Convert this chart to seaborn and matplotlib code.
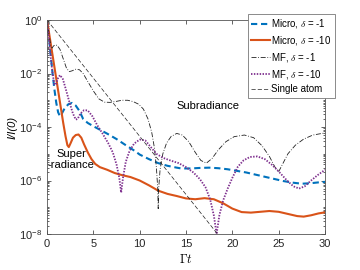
import numpy as np
import pandas as pd
import seaborn as sns
import matplotlib.pyplot as plt
from matplotlib.ticker import LogLocator, FixedLocator, NullFormatter

# values: time (Gamma t) and log10 of I/I(0)
micro1_t = [0, 0.2, 0.4, 0.6, 0.8, 1.0, 1.2, 1.4, 1.6, 1.9, 2.3, 2.7, 3.1, 3.5, 3.9,
            4.4, 5.0, 5.7, 6.5, 7.5, 8.5, 9.5, 10.0, 11.0, 12.0, 13.0, 14.0, 14.5,
            15.5, 16.5, 17.5, 18.5, 19.5, 20.5, 21.5, 22.5, 23.5, 24.5, 25.5, 26.5,
            27.5, 28.5, 29.3, 30]
micro1_log = [0, -0.6, -1.3, -2.0, -2.6, -3.1, -3.45, -3.6, -3.5, -3.3, -3.15, -3.1,
              -3.2, -3.4, -3.7, -3.85, -3.97, -4.1, -4.25, -4.45, -4.68, -4.9, -5.03,
              -5.2, -5.35, -5.45, -5.52, -5.55, -5.55, -5.53, -5.52, -5.54, -5.58,
              -5.64, -5.7, -5.78, -5.86, -5.94, -6.02, -6.08, -6.12, -6.1, -6.07, -6.05]

micro10_t = [0, 0.25, 0.5, 0.75, 1.0, 1.25, 1.5, 1.75, 2.0, 2.2, 2.35, 2.55, 2.8, 3.1,
             3.4, 3.7, 4.0, 4.4, 4.8, 5.2, 5.7, 6.5, 7.3, 8.1, 9.0, 10.0, 11.0, 12.0,
             13.0, 14.0, 15.0, 16.0, 17.0, 18.0, 19.0, 20.0, 21.0, 22.0, 23.0, 24.0,
             25.0, 26.0, 27.0, 27.7, 28.5, 29.3, 30]
micro10_log = [0, -0.55, -1.1, -1.65, -2.2, -2.75, -3.3, -3.85, -4.35, -4.68, -4.75,
               -4.6, -4.4, -4.3, -4.28, -4.4, -4.65, -4.95, -5.2, -5.38, -5.5, -5.6,
               -5.72, -5.8, -5.87, -6.0, -6.18, -6.38, -6.5, -6.58, -6.67, -6.7, -6.66,
               -6.7, -6.85, -7.05, -7.18, -7.2, -7.17, -7.14, -7.17, -7.25, -7.33,
               -7.35, -7.3, -7.23, -7.19]

mf1_t = [0, 0.2, 0.4, 0.55, 0.7, 0.9, 1.1, 1.4, 1.8, 2.1, 2.4, 2.7, 3.1, 3.5, 3.9,
         4.4, 5.0, 5.6, 6.2, 6.8, 7.5, 8.1, 8.7, 9.3, 9.9, 10.4, 10.9, 11.3, 11.6,
         11.8, 11.95, 12.0, 12.05, 12.2, 12.5, 12.9, 13.4, 14.0, 14.6, 15.3, 16.0,
         16.6, 17.2, 17.8, 18.5, 19.3, 20.2, 21.3, 22.3, 23.2, 24.0, 24.6, 25.0,
         25.4, 26.0, 26.8, 27.7, 28.7, 30]
mf1_log = [0, -0.5, -0.95, -1.05, -0.97, -0.93, -0.95, -1.1, -1.5, -1.8, -1.93, -1.9,
           -1.84, -1.86, -2.0, -2.3, -2.65, -2.95, -3.07, -3.08, -3.04, -3.0, -3.0,
           -3.05, -3.15, -3.33, -3.7, -4.2, -4.8, -5.5, -6.3, -7.05, -6.3, -5.6, -5.0,
           -4.6, -4.35, -4.24, -4.3, -4.55, -4.95, -5.25, -5.35, -5.18, -4.85, -4.55,
           -4.36, -4.3, -4.4, -4.7, -5.1, -5.5, -5.67, -5.4, -5.0, -4.68, -4.45, -4.3,
           -4.22]

mf10_t = [0, 0.2, 0.4, 0.6, 0.8, 0.95, 1.15, 1.4, 1.7, 2.0, 2.4, 2.8, 3.1, 3.3, 3.6,
          4.0, 4.4, 4.9, 5.4, 6.0, 6.6, 7.1, 7.5, 7.8, 8.0, 8.2, 8.5, 8.9, 9.4, 10.0,
          10.6, 11.2, 11.8, 12.5, 13.3, 14.2, 15.0, 15.8, 16.5, 17.1, 17.6, 18.0,
          18.3, 18.6, 19.0, 19.5, 20.0, 20.6, 21.2, 21.9, 22.7, 23.5, 24.3, 25.1,
          25.9, 26.6, 27.2, 27.8, 28.5, 29.2, 30]
mf10_log = [0, -0.7, -1.4, -2.0, -2.4, -2.42, -2.2, -2.06, -2.2, -2.55, -3.05, -3.5,
            -3.72, -3.7, -3.5, -3.37, -3.38, -3.6, -3.92, -4.25, -4.6, -4.95, -5.4,
            -5.9, -6.45, -5.9, -5.3, -4.9, -4.62, -4.47, -4.5, -4.75, -5.0, -5.15,
            -5.25, -5.35, -5.5, -5.7, -5.95, -6.25, -6.7, -7.3, -8.0, -7.3, -6.75,
            -6.3, -5.9, -5.48, -5.25, -5.12, -5.1, -5.2, -5.42, -5.7, -6.0, -6.22,
            -6.3, -6.22, -6.0, -5.8, -5.6]

single_t = [0, 18.4]
single_log = [0, -8]

x_ticks = [0, 5, 10, 15, 20, 25, 30]
y_ticks = [1e0, 1e-2, 1e-4, 1e-6, 1e-8]

series = [
    ("Micro, $\\delta$ = -1", micro1_t, micro1_log, "#0072BD", (0, (3, 1.8)), 1.5),
    ("Micro, $\\delta$ = -10", micro10_t, micro10_log, "#D95319", "-", 1.5),
    ("MF, $\\delta$ = -1", mf1_t, mf1_log, "#202020", (0, (6, 2, 1, 2)), 0.6),
    ("MF, $\\delta$ = -10", mf10_t, mf10_log, "#7E2F8E", (0, (0.8, 0.8)), 1.3),
    ("Single atom", single_t, single_log, "#202020", (0, (6, 3)), 0.5),
]

plt.rcParams['font.family'] = ['Liberation Sans', 'DejaVu Sans']
plt.rcParams['mathtext.fontset'] = 'cm'

fig = plt.figure(figsize=(3.6, 2.7), dpi=100)
ax = fig.add_axes([0.1306, 0.1333, 0.7722, 0.7926])

for name, t, lg, col, ls, lw in series:
    df = pd.DataFrame({"t": t, "I": 10.0 ** np.array(lg)})
    sns.lineplot(data=df, x="t", y="I", ax=ax, color=col, linestyle=ls,
                 linewidth=lw, label=name, sort=False, estimator=None)

ax.set_yscale("log")
ax.set_xlim(0, 30)
ax.set_ylim(1e-8, 1e0)
ax.xaxis.set_major_locator(FixedLocator(x_ticks))
ax.yaxis.set_major_locator(FixedLocator(y_ticks))
ax.yaxis.set_minor_locator(LogLocator(base=10, subs=np.arange(1, 10), numticks=30))
ax.yaxis.set_minor_formatter(NullFormatter())
ax.set_yticklabels([f"$\\mathregular{{10^{{{int(np.log10(v))}}}}}$" for v in y_ticks])

ax.tick_params(which="both", direction="in", top=True, right=True,
               labelsize=8, colors="#262626", width=0.5)
ax.tick_params(which="major", length=3)
ax.tick_params(which="minor", length=1.5)
for sp in ax.spines.values():
    sp.set_color("#555555")
    sp.set_linewidth(0.6)

ax.set_xlabel("$\\Gamma t$", fontsize=9, labelpad=3)
ax.set_ylabel("I/I(0)", fontsize=8, style="italic", labelpad=1)

ax.text(17.4, 10 ** -3.22, "Subradiance", fontsize=8, ha="center", va="center")
ax.text(2.6, 10 ** -5.2, "Super\n-radiance", fontsize=8, ha="center", va="center",
        linespacing=1.1)

leg = ax.legend(loc="upper right", bbox_to_anchor=(1.036, 1.028), borderaxespad=0,
                fontsize=7, fancybox=False, framealpha=1, handlelength=1.9,
                handletextpad=0.15, borderpad=0.35, labelspacing=0.38)
leg.get_frame().set_edgecolor("#777777")
leg.get_frame().set_linewidth(0.6)

fig.savefig("out.png", dpi=100)
